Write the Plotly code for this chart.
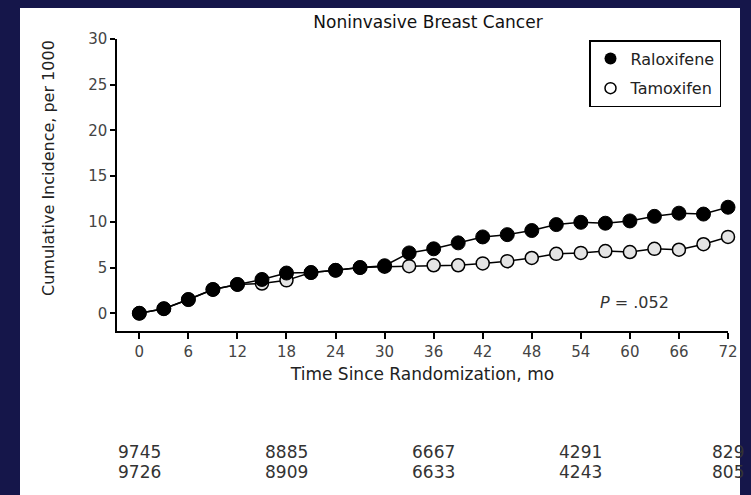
import plotly.graph_objects as go

months = [0, 3, 6, 9, 12, 15, 18, 21, 24, 27, 30, 33, 36, 39, 42, 45, 48, 51, 54, 57, 60, 63, 66, 69, 72]
raloxifene = [0, 0.5, 1.5, 2.6, 3.15, 3.7, 4.4, 4.45, 4.7, 5.0, 5.2, 6.6, 7.05, 7.7, 8.35, 8.6, 9.05, 9.7, 9.95, 9.85, 10.1, 10.6, 10.95, 10.85, 11.6]
tamoxifen = [0, 0.5, 1.5, 2.6, 3.15, 3.25, 3.6, 4.45, 4.7, 5.0, 5.1, 5.15, 5.25, 5.25, 5.45, 5.7, 6.05, 6.5, 6.6, 6.8, 6.7, 7.05, 6.95, 7.55, 8.35]
x_ticks = list(range(0, 73, 6))
y_ticks = [0, 5, 10, 15, 20, 25, 30]
risk_months = [0, 18, 36, 54, 72]
risk_raloxifene = ["9745", "8885", "6667", "4291", "829"]
risk_tamoxifen = ["9726", "8909", "6633", "4243", "805"]

FONT = "DejaVu Sans"
NAVY = "#15164a"
L, R, T, B = 117, 728, 39, 331
W, H = 751, 495
pw, ph = R - L, B - T

fig = go.Figure()
fig.add_trace(go.Scatter(
    x=months, y=tamoxifen, mode="lines+markers", showlegend=False,
    line=dict(color="black", width=1.5),
    marker=dict(symbol="circle", size=13, color="#e4e4e4", line=dict(color="black", width=1.5)),
    cliponaxis=False))
fig.add_trace(go.Scatter(
    x=months, y=raloxifene, mode="lines+markers", showlegend=False,
    line=dict(color="black", width=1.5),
    marker=dict(symbol="circle", size=14, color="black", line=dict(color="black", width=1)),
    cliponaxis=False))
# legend entries (markers only)
fig.add_trace(go.Scatter(x=[None], y=[None], mode="markers", name="Raloxifene", legendgroup="r",
                         marker=dict(symbol="circle", size=12, color="black")))
fig.add_trace(go.Scatter(x=[None], y=[None], mode="markers", name="Tamoxifen", legendgroup="t",
                         marker=dict(symbol="circle", size=11, color="white", line=dict(color="black", width=1.5))))

# number at risk rows
for m, a, b in zip(risk_months, risk_raloxifene, risk_tamoxifen):
    fig.add_annotation(x=m, xref="x", y=(B - 452) / ph, yref="paper", text=a, showarrow=False,
                       font=dict(family=FONT, size=17, color="#333"), xanchor="center", yanchor="middle")
    fig.add_annotation(x=m, xref="x", y=(B - 472) / ph, yref="paper", text=b, showarrow=False,
                       font=dict(family=FONT, size=17, color="#333"), xanchor="center", yanchor="middle")

fig.add_annotation(x=60.6, y=1.13, xref="x", yref="y", text="<i>P</i> = .052", showarrow=False,
                   font=dict(family=FONT, size=16, color="#333"))

# y-axis title
fig.add_annotation(x=(48 - L) / pw, xref="paper", y=(B - 168) / ph, yref="paper",
                   text="Cumulative Incidence, per 1000", textangle=-90, showarrow=False,
                   xanchor="center", yanchor="middle",
                   font=dict(family=FONT, size=16, color="#222"))

# white panel
fig.add_shape(type="rect", xref="paper", yref="paper", layer="below",
              x0=(20 - L) / pw, x1=(740 - L) / pw, y0=(B - 500) / ph, y1=(B - 8) / ph,
              fillcolor="white", line=dict(width=0))

fig.update_layout(
    width=W, height=H,
    margin=dict(l=L, r=W - R, t=T, b=H - B),
    paper_bgcolor=NAVY, plot_bgcolor="white",
    title=dict(text="Noninvasive Breast Cancer", x=(428) / W, xanchor="center",
               y=1 - 22 / H, yanchor="middle", font=dict(family=FONT, size=17, color="#111")),
    showlegend=True,
    legend=dict(x=(589 - L) / pw, y=(B - 40) / ph, xanchor="left", yanchor="top",
                bgcolor="white", bordercolor="black", borderwidth=1.5,
                font=dict(family=FONT, size=16, color="#222"), tracegroupgap=6,
                itemwidth=30),
    font=dict(family=FONT),
)
fig.update_xaxes(range=[-2.73, 72], tickvals=x_ticks, ticks="outside", ticklen=6, tickwidth=1.5,
                 tickcolor="black", showline=True, linecolor="black", linewidth=1.5,
                 showgrid=False, zeroline=False,
                 tickfont=dict(family=FONT, size=15, color="#444"),
                 title=dict(text="Time Since Randomization, mo", standoff=8,
                            font=dict(family=FONT, size=17, color="#222")))
fig.update_yaxes(range=[-1.94, 30], tickvals=y_ticks, ticks="outside", ticklen=5, tickwidth=1.5,
                 tickcolor="black", showline=True, linecolor="black", linewidth=1.5,
                 showgrid=False, zeroline=False,
                 tickfont=dict(family=FONT, size=15, color="#444"))

fig.write_html("out.html", config={"displayModeBar": False},
               post_script="document.body.style.margin='0';")
